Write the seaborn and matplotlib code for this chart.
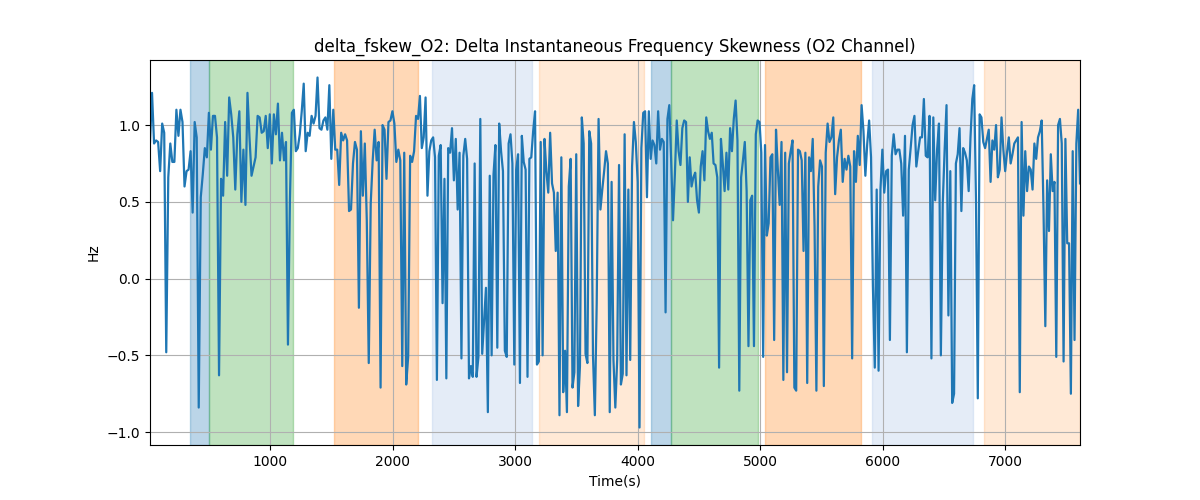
import numpy as np
import pandas as pd
import matplotlib
matplotlib.use("Agg")
import matplotlib.pyplot as plt
import seaborn as sns

# Segment boundaries in seconds (time range covered by each block of readings)
seg_bounds = [20, 1114, 2208, 3302, 4396, 5490, 6584, 7612]

seg1 = [0.89, 1.21, 0.88, 0.90, 0.89, 0.70, 1.01, 0.95, -0.48, 0.66, 0.88, 0.76, 0.76, 1.10, 0.93,
        1.10, 1.02, 0.60, 0.70, 0.71, 0.83, 0.43, 1.02, 0.92, -0.84, 0.53, 0.68, 0.85, 0.79,
        1.08, 0.84, 1.06, 1.06, 0.92, -0.63, 0.65, 0.54, 1.02, 0.67, 1.18, 1.07, 0.92, 0.58,
        0.94, 1.09, 0.50, 0.84, 0.48, 1.21, 0.92, 0.67, 0.73, 0.79, 1.06, 1.05, 0.95, 0.96,
        1.06, 0.85, 1.07, 0.75, 1.07, 0.94, 1.14, 0.77, 0.95, 0.77]
seg2 = [0.89, -0.43, 0.51, 1.08, 1.10, 0.83, 0.85, 0.94, 1.09, 1.27, 0.83, 0.95, 0.93, 1.06,
        1.01, 1.06, 1.31, 0.98, 0.97, 1.03, 1.05, 0.97, 1.26, 0.78, 1.10, 0.84, 0.84, 0.61,
        0.95, 0.90, 0.94, 0.90, 0.44, 0.45, 0.75, 0.89, 0.84, -0.19, 0.96, 0.54, 0.88, 0.38,
        -0.55, 0.49, 0.77, 0.97, 0.77, 0.89, -0.71, 1.00, 0.97, 0.65, 1.02, 1.03, 1.09, 1.01,
        0.76, 0.84, 0.77, -0.57, 0.82, -0.69, -0.51, 0.80, 0.76, 0.83, 1.06, 1.04]
seg3 = [1.19, 0.85, 0.92, 1.18, 0.54, 0.83, 0.90, 0.92, 0.79, -0.66, 0.80, 0.87, -0.16, 0.65,
        -0.65, 0.85, 0.82, 0.98, 0.64, 0.91, 0.45, 0.82, -0.52, 0.80, 0.91, 0.78, -0.65, -0.57,
        -0.64, 0.75, -0.64, -0.51, 1.04, -0.49, -0.27, -0.06, -0.87, 0.67, -0.50, 0.68, 0.87,
        -0.45, 1.01, 0.83, 0.70, -0.47, -0.51, 0.88, 0.94, 0.75, -0.56, 0.71, 0.81, -0.68, 0.93,
        0.76, 0.71, -0.64, 0.78, 0.79, 0.96, 1.09, -0.56, -0.54, 0.89, -0.50, 0.91, 0.70, 0.56,
        0.95, 0.62]
seg4 = [0.56, 0.18, 0.56, -0.89, 0.79, -0.74, -0.47, -0.87, 0.60, 0.78, -0.71, -0.61, 0.81,
        -0.83, -0.57, 1.05, 0.88, -0.49, -0.55, 0.96, 0.88, -0.50, -0.89, -0.16, 1.04, 0.45,
        0.58, 0.70, 0.83, 0.75, -0.87, 0.63, -0.53, -0.84, -0.53, 0.74, -0.69, -0.62, 0.94,
        -0.63, 0.58, -0.53, 0.73, 1.02, 0.89, 0.63, -0.97, 0.85, 1.08, 1.09, 0.53, 1.09, 0.78,
        0.90, 0.87, 0.75, 1.09, 0.84, 0.91, 0.89, -0.22, 1.04, 1.13, 0.77, 0.38, 0.68, 1.03,
        0.83, 0.74, 0.98, 1.03, 1.02]
seg5 = [0.50, 0.79, 0.60, 0.66, 0.69, 0.51, 0.43, 0.73, 0.83, 0.64, 1.05, 0.96, 0.91, 0.95,
        0.75, 0.74, 0.66, -0.58, 0.91, 0.75, 0.57, 0.82, 0.58, 0.98, 0.83, 1.04, 1.16, 0.90,
        -0.73, 0.66, 0.77, 0.89, 0.57, -0.44, 0.51, 0.54, -0.44, 0.94, 1.03, 1.02, 0.82, -0.51,
        0.87, 0.28, 0.36, 0.79, 0.81, -0.40, 0.97, 0.71, 0.48, 0.89, -0.66, 0.82, -0.61, 0.75,
        0.83, 0.90, -0.71, -0.73, 0.84, 0.83, 0.77, 0.18, 0.82, -0.68, 0.79, 0.70, 0.91, 0.34,
        -0.73, 0.60, 0.77]
seg6 = [0.73, -0.70, 0.82, 1.01, 0.89, 0.92, 1.05, 0.55, 0.79, 0.90, 0.97, 0.63, 0.78, 0.71,
        0.80, 0.73, -0.52, 0.83, 0.63, 0.93, 0.74, 1.13, 0.96, 0.67, 0.88, 1.03, 0.79, -0.05,
        -0.58, 0.58, -0.60, 0.58, 0.84, 0.56, 0.70, 0.71, -0.40, 0.80, 0.94, 0.81, 0.84, 0.84,
        0.75, 0.41, 0.93, -0.48, 0.71, 0.85, 1.00, 1.06, 0.73, 0.83, 0.92, 0.92, 1.17, 0.80,
        0.79, 1.06, -0.52, 1.05, 0.51, 0.84, 1.01, -0.50, 0.49, 0.84, 1.13, -0.24, 0.70, -0.81,
        -0.75]
seg7 = [0.75, 0.81, 0.98, 0.44, 0.85, 0.82, 0.77, 0.57, 0.92, 1.17, 1.26, 0.51, -0.78, 1.07,
        1.05, 0.89, 0.85, 0.91, 0.97, 0.63, 0.90, 0.84, 1.00, 0.66, 0.71, 1.05, 0.84, 0.70,
        0.82, 0.92, 0.75, 0.81, 0.88, 0.90, 0.92, -0.74, 1.02, 0.41, 0.83, 0.57, 0.73, 0.71,
        0.58, 0.88, 0.78, 0.92, 0.96, 1.03, 0.45, -0.31, 0.64, 0.31, 0.81, 0.57, 0.63, -0.51,
        1.00, 1.04, 0.88, -0.54, 0.91, 0.23, 0.23, -0.75, 0.83, -0.40, 0.88, 1.10, 0.62]

segments = [seg1, seg2, seg3, seg4, seg5, seg6, seg7]

# Shaded intervals (start, end, colour, alpha)
span_starts = [346, 501, 1523, 2325, 3192, 4108, 4271, 5040, 5915, 6830]
span_ends = [501, 1188, 2210, 3135, 4050, 4271, 4983, 5825, 6740, 7615]
span_colors = ["tab:blue", "tab:green", "tab:orange", "#aec7e8", "tab:orange",
               "tab:blue", "tab:green", "tab:orange", "#aec7e8", "tab:orange"]
span_alphas = [0.3, 0.3, 0.3, 0.33, 0.17, 0.3, 0.3, 0.3, 0.33, 0.17]

times = []
values = []
for k, seg in enumerate(segments):
    n = len(seg)
    if k == 0:
        t = np.linspace(seg_bounds[0], seg_bounds[1], n)
    else:
        t = np.linspace(seg_bounds[k], seg_bounds[k + 1], n + 1)[1:]
    times.extend(t.tolist())
    values.extend(seg)

df = pd.DataFrame({"Time(s)": times, "Hz": values})

fig, ax = plt.subplots(figsize=(12, 5), dpi=100)
for s, e, c, a in zip(span_starts, span_ends, span_colors, span_alphas):
    ax.axvspan(s, e, color=c, alpha=a)

sns.lineplot(data=df, x="Time(s)", y="Hz", ax=ax, color="tab:blue", linewidth=1.6,
             estimator=None, sort=False)
ax.grid(True, color="#b0b0b0", linewidth=0.8)
ax.set_xlim(df["Time(s)"].min(), df["Time(s)"].max())
ax.set_title("delta_fskew_O2: Delta Instantaneous Frequency Skewness (O2 Channel)")
ax.set_xlabel("Time(s)")
ax.set_ylabel("Hz")
fig.savefig("out.png", dpi=100)
